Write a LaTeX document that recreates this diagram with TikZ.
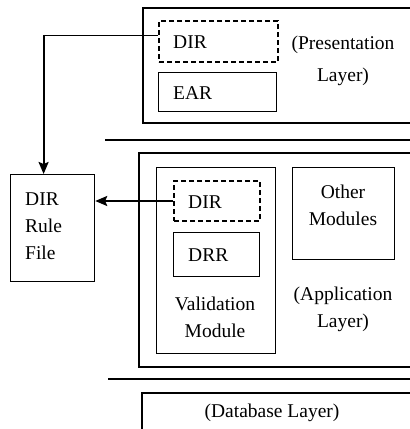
\documentclass[tikz,border=0pt]{standalone}
\usepackage{fontspec}
\setmainfont{Liberation Serif}
\newfontfamily\timesfont{Liberation Serif}
\usetikzlibrary{arrows.meta}
\begin{document}
\begin{tikzpicture}[x=1pt,y=-1pt,
  every node/.style={font=\timesfont\fontsize{19.5}{27}\selectfont, inner sep=0pt},
  box/.style={draw, line width=1.2pt, anchor=north west},
  dbox/.style={draw, line width=2pt, dash pattern=on 5pt off 3pt, anchor=north west},
  layer/.style={line width=1.2pt},
  sep/.style={line width=1.5pt},
  conn/.style={line width=2pt, -{Stealth[length=12pt,width=10pt,inset=2pt]}},
  txt/.style={align=center}
]
\useasboundingbox (0,0) rectangle (410,429);
% layers (open on the right)
\draw[layer] (412,8) -- (143,8) -- (143,123) -- (412,123);
\draw[sep] (105,140) -- (412,140);
\draw[layer] (412,153) -- (139,153) -- (139,367) -- (412,367);
\draw[sep] (108,379) -- (412,379);
\draw[layer] (412,393) -- (142,393) -- (142,432);
% presentation layer
\node[dbox, minimum width=119pt, minimum height=41pt] (pdir) at (158,20) {};
\node[anchor=west] at (173,42) {DIR};
\node[box, minimum width=118pt, minimum height=39pt] (ear) at (158,72) {};
\node[anchor=west] at (173,93) {EAR};
\node[txt, font=\timesfont\fontsize{19.5}{32}\selectfont] at (343,61) {(Presentation\\Layer)};
% application layer
\node[box, minimum width=119pt, minimum height=186pt] (val) at (156,167) {};
\node[dbox, minimum width=86pt, minimum height=40pt] (vdir) at (173,180) {};
\node[anchor=west] at (188,202) {DIR};
\node[box, minimum width=86pt, minimum height=44pt] (drr) at (173,232) {};
\node[anchor=west] at (188,255) {DRR};
\node[txt] at (215,317) {Validation\\Module};
\node[box, minimum width=102pt, minimum height=92pt] (other) at (292,167) {};
\node[txt] at (343,205) {Other\\Modules};
\node[txt] at (343,309) {(Application\\Layer)};
% database layer
\node at (272,413) {(Database Layer)};
% rule file
\node[box, minimum width=84pt, minimum height=107pt] (rf) at (10,174) {};
\node[anchor=west, align=left] at (25,226) {DIR\\Rule\\File};
% connectors
\coordinate (a) at ([yshift=6pt]pdir.west);
\coordinate (b) at ([xshift=-9pt]rf.north);
\coordinate (c) at (b |- a);
\draw[line width=1.2pt] (a) -- (c);
\draw[conn] ([yshift=0.6pt]c) -- (b);
\draw[conn] (vdir.west) -- (vdir.west -| rf.east);
\end{tikzpicture}
\end{document}
